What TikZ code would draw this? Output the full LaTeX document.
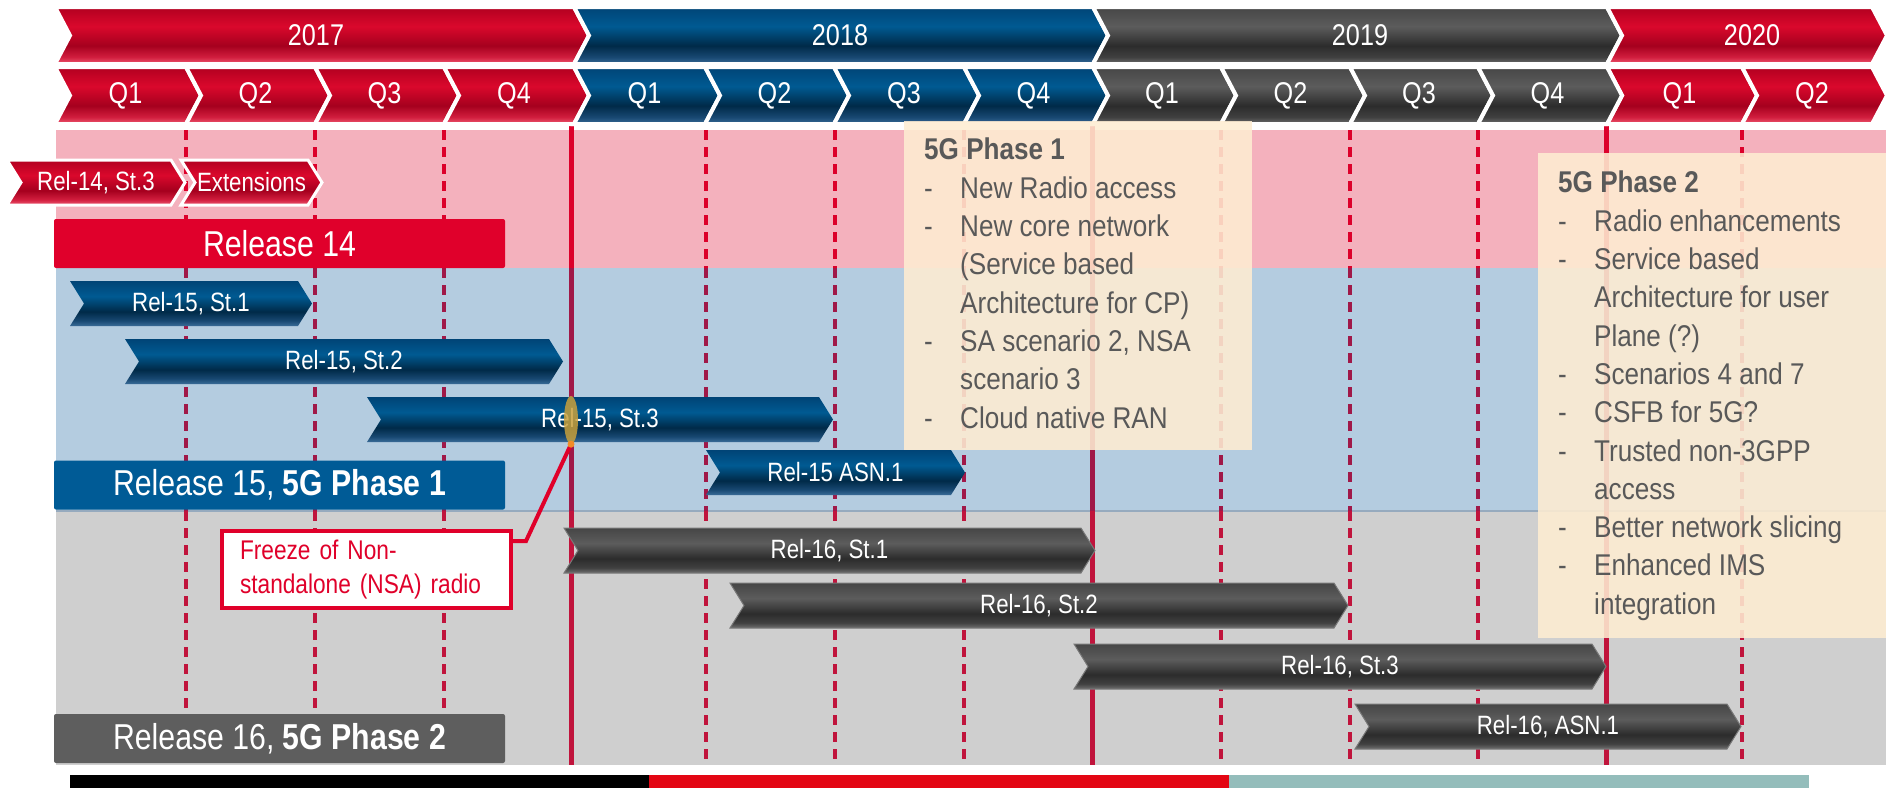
\documentclass[tikz,border=0pt]{standalone}
\usepackage{fontspec}
\setmainfont{Liberation Sans}[FakeStretch=0.84]
\newfontfamily\phasefont{Liberation Sans}[FakeStretch=0.87]
\usetikzlibrary{shapes.geometric}

\definecolor{rA}{RGB}{238,92,116}
\definecolor{rB}{RGB}{210,30,62}
\definecolor{rC}{RGB}{165,0,30}
\definecolor{rD}{RGB}{218,8,44}
\definecolor{rE}{RGB}{178,0,32}
\definecolor{bA}{RGB}{58,108,152}
\definecolor{bB}{RGB}{24,72,114}
\definecolor{bC}{RGB}{0,42,72}
\definecolor{bD}{RGB}{0,90,146}
\definecolor{bE}{RGB}{0,68,118}
\definecolor{gA}{RGB}{112,112,112}
\definecolor{gB}{RGB}{64,64,64}
\definecolor{gC}{RGB}{44,44,44}
\definecolor{gD}{RGB}{92,92,92}
\definecolor{gE}{RGB}{70,70,70}
\pgfdeclareverticalshading{redsh}{100bp}{color(0bp)=(rA); color(25bp)=(rA); color(31bp)=(rB); color(41bp)=(rC); color(58bp)=(rD); color(75bp)=(rE); color(100bp)=(rE)}
\pgfdeclareverticalshading{bluesh}{100bp}{color(0bp)=(bA); color(25bp)=(bA); color(31bp)=(bB); color(41bp)=(bC); color(58bp)=(bD); color(75bp)=(bE); color(100bp)=(bE)}
\pgfdeclareverticalshading{graysh}{100bp}{color(0bp)=(gA); color(25bp)=(gA); color(31bp)=(gB); color(41bp)=(gC); color(58bp)=(gD); color(75bp)=(gE); color(100bp)=(gE)}

\definecolor{bandpink}{RGB}{244,177,189}
\definecolor{bandblue}{RGB}{180,204,224}
\definecolor{bandgray}{RGB}{207,207,207}
\definecolor{bandedgecol}{RGB}{150,170,190}
\definecolor{lnpink}{RGB}{220,0,42}
\definecolor{lnblue}{RGB}{160,24,72}
\definecolor{lngray}{RGB}{192,20,60}
\definecolor{boxred}{RGB}{224,0,43}
\definecolor{boxblue}{RGB}{0,91,150}
\definecolor{boxgray}{RGB}{94,94,94}
\definecolor{phasefill}{RGB}{254,237,210}
\definecolor{phasetext}{RGB}{89,89,89}
\definecolor{freezecol}{RGB}{200,160,60}
\definecolor{dotcol}{RGB}{242,140,40}
\definecolor{callred}{RGB}{224,0,42}
\definecolor{barred}{RGB}{227,6,19}
\definecolor{barteal}{RGB}{148,189,187}
\definecolor{grayedge}{RGB}{120,120,120}

\tikzset{
  wsep/.style={draw=white, line width=4pt},
  yearlabel/.style={text=white, font=\fontsize{30}{36}\selectfont, inner sep=0pt},
  qlabel/.style={text=white, font=\fontsize{30}{36}\selectfont, inner sep=0pt},
  barlabel/.style={text=white, font=\fontsize{26.5}{32}\selectfont, inner sep=0pt},
  relbox/.style={rounded corners=2pt, minimum width=451pt, minimum height=49pt, inner sep=0pt, text=white, font=\fontsize{36}{43}\selectfont},
  dline/.style={line width=3.3pt, dash pattern=on 10pt off 7pt},
  sline/.style={line width=5pt},
  bandedge/.style={draw=bandedgecol, line width=1.5pt},
  phasebox/.style={fill=phasefill, fill opacity=0.88, inner sep=0pt, anchor=north west},
  phasetxt/.style={text=phasetext, font=\phasefont\fontsize{30}{38.3}\selectfont, align=left, inner sep=0pt, anchor=north west},
  callbox/.style={draw=callred, line width=4pt, fill=white, text=callred, font=\fontsize{27}{34}\selectfont, text width=252.5pt, align=left, inner xsep=18.5pt, inner ysep=0pt, minimum height=77pt},
  callline/.style={draw=callred, line width=4pt, line join=miter},
}

% #1 options, #2 x left, #3 x body end, #4 y top, #5 y bottom, #6 depth
\newcommand\chevshape[6]{%
  \path[#1] (#2,#4) -- (#3,#4) -- ({#3+#6},{(#4+#5)/2}) -- (#3,#5) -- (#2,#5) -- ({#2+#6},{(#4+#5)/2}) -- cycle;}
\newcommand\ditem[1]{\makebox[36pt][l]{-}#1}
\newcommand\dcont[1]{\hspace*{36pt}#1}

\begin{document}
\begin{tikzpicture}[x=1pt,y=-1pt]
\useasboundingbox (0,0) rectangle (1892,788);
\fill[white] (0,0) rectangle (1892,788);

% background bands
\fill[bandpink] (56,130) rectangle (1886,268);
\fill[bandblue] (56,268) rectangle (1886,511);
\fill[bandgray] (56,511) rectangle (1886,765);
\draw[bandedge] (56,511) -- (1886,511);

% quarter grid lines
\foreach \x in {186,315,444,706,835,964,1221,1350,1478,1742}{
  \draw[dline,lnpink] (\x,62) -- (\x,268);
  \draw[dline,lnblue] (\x,268) -- (\x,511);
  \draw[dline,lngray] (\x,511) -- (\x,765);}
\foreach \x in {571,1092,1606}{
  \draw[sline,lnpink] (\x,62) -- (\x,268);
  \draw[sline,lnblue] (\x,268) -- (\x,511);
  \draw[sline,lngray] (\x,511) -- (\x,765);}

% year row
\chevshape{shade,shading=redsh,wsep}{55}{574}{7}{64}{15}
\chevshape{shade,shading=bluesh,wsep}{574}{1093}{7}{64}{15}
\chevshape{shade,shading=graysh,wsep}{1093}{1607}{7}{64}{15}
\chevshape{shade,shading=redsh,wsep}{1607}{1872}{7}{64}{15}
\node[yearlabel] (y2017) at (316,35.5) {2017};
\node[yearlabel] (y2018) at (840,35.5) {2018};
\node[yearlabel] (y2019) at (1360,35.5) {2019};
\node[yearlabel] (y2020) at (1752,35.5) {2020};

% quarter row
\foreach \a/\b/\lab/\nm in {55/186/Q1/a1, 186/315/Q2/a2, 315/444/Q3/a3, 444/574/Q4/a4, 1607/1742/Q1/d1, 1742/1872/Q2/d2}{
  \chevshape{shade,shading=redsh,wsep}{\a}{\b}{67}{124}{15}
  \node[qlabel] (q\nm) at ({(\a+\b)/2+5},95.5) {\lab};}
\foreach \a/\b/\lab/\nm in {574/705/Q1/b1, 705/834/Q2/b2, 834/964/Q3/b3, 964/1093/Q4/b4}{
  \chevshape{shade,shading=bluesh,wsep}{\a}{\b}{67}{124}{15}
  \node[qlabel] (q\nm) at ({(\a+\b)/2+5},95.5) {\lab};}
\foreach \a/\b/\lab/\nm in {1093/1221/Q1/c1, 1221/1350/Q2/c2, 1350/1478/Q3/c3, 1478/1607/Q4/c4}{
  \chevshape{shade,shading=graysh,wsep}{\a}{\b}{67}{124}{15}
  \node[qlabel] (q\nm) at ({(\a+\b)/2+5},95.5) {\lab};}

% Release 14
\chevshape{shade,shading=redsh,draw=white,line width=3pt}{7}{171}{160}{205}{14}
\node[barlabel] (r14s3) at (96,182.5) {Rel-14, St.3};
\chevshape{shade,shading=redsh,draw=white,line width=3pt}{181}{308}{160}{205}{14}
\node[barlabel] (r14ext) at (251.5,182.5) {Extensions};
\node[relbox, fill=boxred] (rel14) at (279.5,243.5) {Release 14};

% Release 15
\chevshape{shade,shading=bluesh}{70}{298}{281}{326}{14}
\node[barlabel] (r15s1) at (191,303.5) {Rel-15, St.1};
\chevshape{shade,shading=bluesh}{125}{549}{339}{384}{14}
\node[barlabel] (r15s2) at (344,361.5) {Rel-15, St.2};
\chevshape{shade,shading=bluesh}{367}{819}{397}{442}{14}
\node[barlabel] (r15s3) at (600,419.5) {Rel-15, St.3};
\chevshape{shade,shading=bluesh}{706}{951}{450}{495}{14}
\node[barlabel] (r15asn) at (835.5,472.5) {Rel-15 ASN.1};
\node[relbox, fill=boxblue] (rel15) at (279.5,485) {Release 15, \textbf{5G Phase 1}};

% Release 16
\chevshape{shade,shading=graysh,draw=grayedge,line width=1pt}{564}{1081}{528}{573}{14}
\node[barlabel] (r16s1) at (829.5,550.5) {Rel-16, St.1};
\chevshape{shade,shading=graysh,draw=grayedge,line width=1pt}{730}{1334}{583}{628}{14}
\node[barlabel] (r16s2) at (1039,605.5) {Rel-16, St.2};
\chevshape{shade,shading=graysh,draw=grayedge,line width=1pt}{1074}{1592}{644}{689}{14}
\node[barlabel] (r16s3) at (1340,666.5) {Rel-16, St.3};
\chevshape{shade,shading=graysh,draw=grayedge,line width=1pt}{1355}{1727}{704}{749}{14}
\node[barlabel] (r16asn) at (1548,726.5) {Rel-16, ASN.1};
\node[relbox, fill=boxgray] (rel16) at (279.5,738.5) {Release 16, \textbf{5G Phase 2}};

% freeze callout
\node[ellipse, fill=freezecol, fill opacity=0.85, minimum width=14pt, minimum height=48pt, inner sep=0pt] (freeze) at (571,420) {};
\coordinate (bend) at (526,541);
\node[callbox] (callout) at (366.25,569.5) {Freeze of Non-\\standalone (NSA) radio};
\draw[callline] (freeze.south) -- (bend) -- (bend -| callout.east);
\node[circle, fill=dotcol, minimum size=7pt, inner sep=0pt] (fdot) at (freeze.south) {};

% phase boxes
\node[phasebox, minimum width=348pt, minimum height=329pt] (ph1) at (904,121) {};
\node[phasetxt] (ph1t) at (924,138) {\textbf{5G Phase 1}\\
\ditem{New Radio access}\\
\ditem{New core network}\\
\dcont{(Service based}\\
\dcont{Architecture for CP)}\\
\ditem{SA scenario 2, NSA}\\
\dcont{scenario 3}\\
\ditem{Cloud native RAN}};
\node[phasebox, minimum width=348pt, minimum height=485pt] (ph2) at (1538,153) {};
\node[phasetxt] (ph2t) at (1558,171) {\textbf{5G Phase 2}\\
\ditem{Radio enhancements}\\
\ditem{Service based}\\
\dcont{Architecture for user}\\
\dcont{Plane (?)}\\
\ditem{Scenarios 4 and 7}\\
\ditem{CSFB for 5G?}\\
\ditem{Trusted non-3GPP}\\
\dcont{access}\\
\ditem{Better network slicing}\\
\ditem{Enhanced IMS}\\
\dcont{integration}};

% bottom bar
\fill[black] (70,775) rectangle (649,788);
\fill[barred] (649,775) rectangle (1229,788);
\fill[barteal] (1229,775) rectangle (1809,788);
\end{tikzpicture}
\end{document}
